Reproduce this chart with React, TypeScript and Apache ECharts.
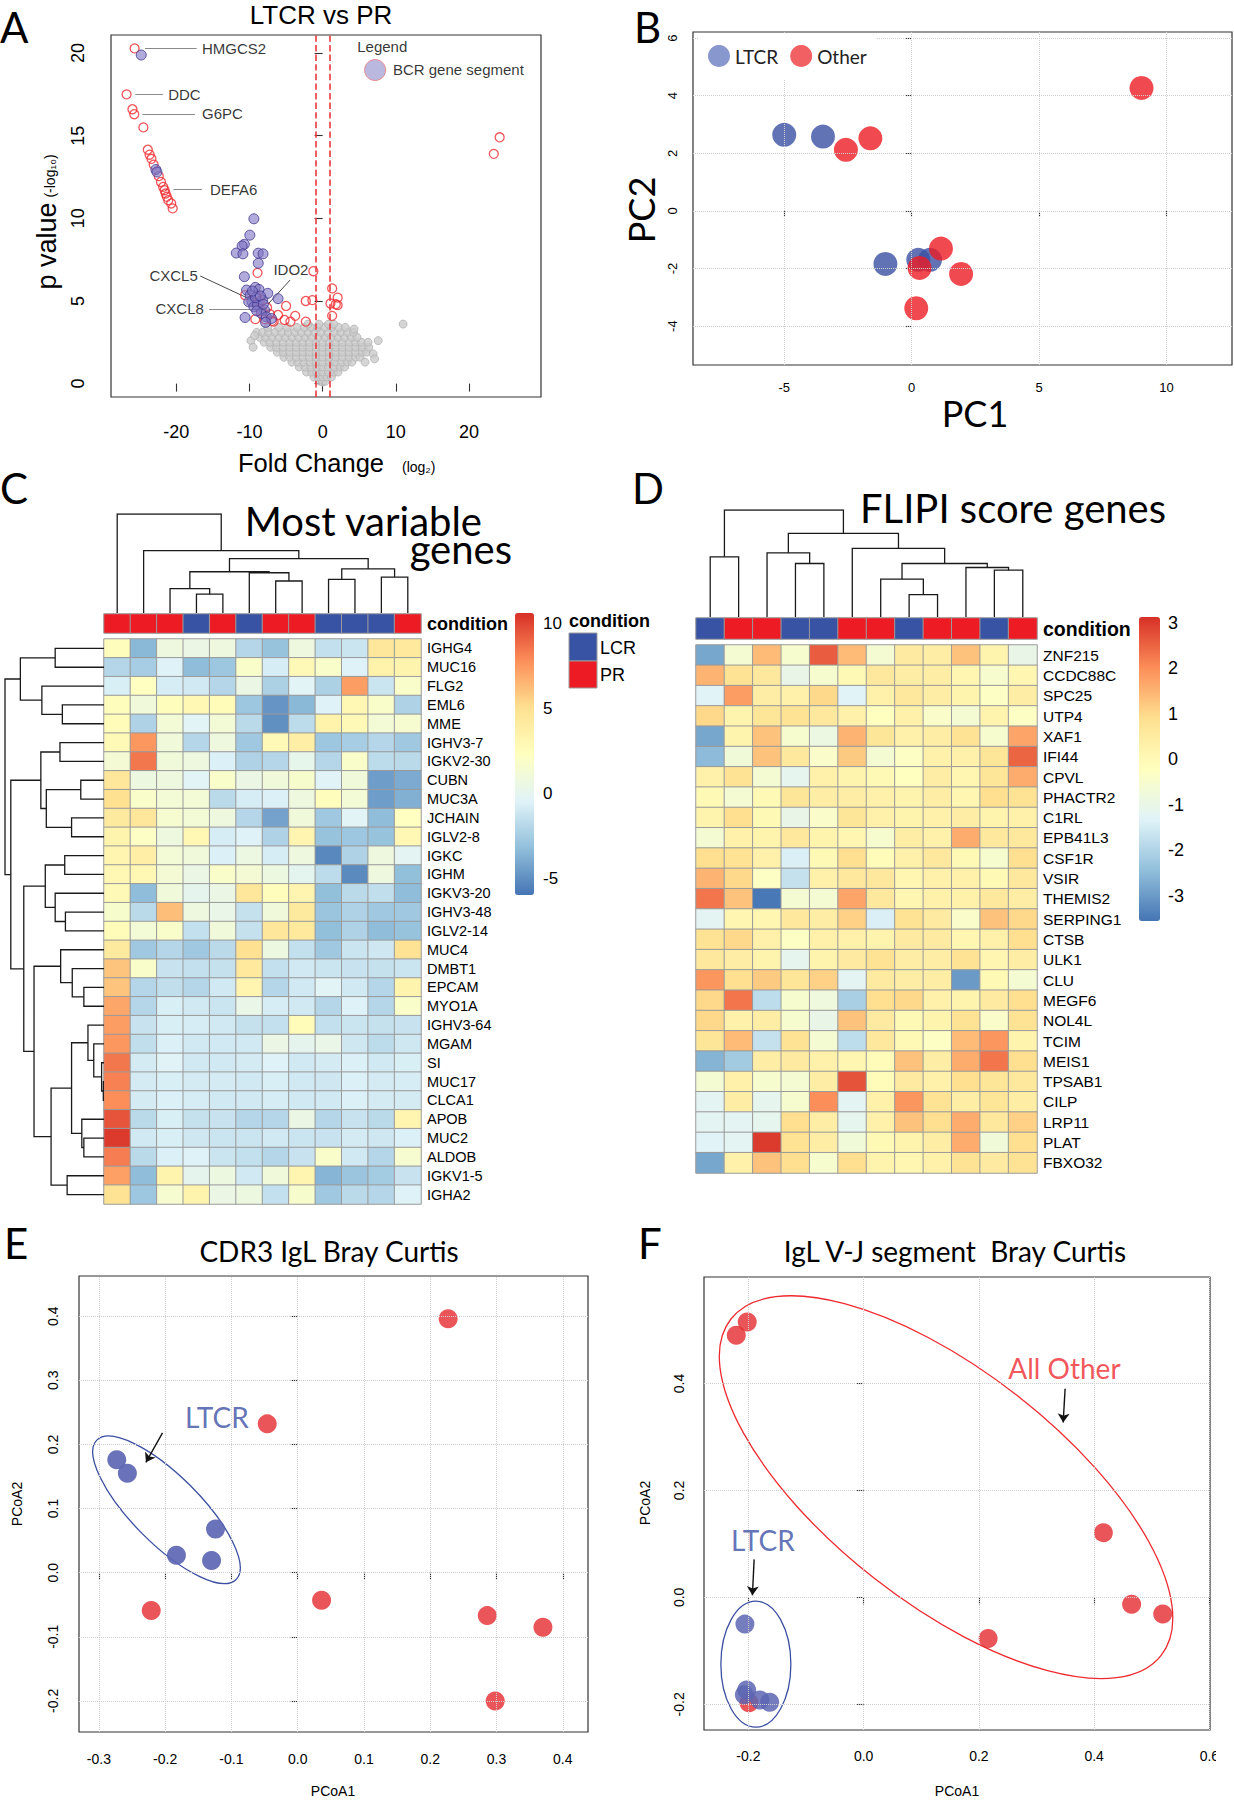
import React, { useEffect, useRef } from "react";
import * as echarts from "echarts";

const SANS = "'Liberation Sans', Arial, Helvetica, sans-serif";
const MYR = "Lato, 'Open Sans', sans-serif";
const RDYLBU = ["#4575b4", "#91bfdb", "#e0f3f8", "#ffffbf", "#fee090", "#fc8d59", "#d73027"];
const BLUE_COND = "#3953a4";
const RED_COND = "#ed1c24";

// ---------------- Panel A : volcano ----------------
const volcanoXTicks = [-20, -10, 0, 10, 20];
const volcanoYTicks = [0, 5, 10, 15, 20];
const foldCutoffs = [-1, 1];
const volcanoGrey = [
  [-0.4, 0.15], [0, 0.1], [0.4, 0.15],
  [-1.2, 0.4], [-0.6, 0.4], [0, 0.4], [0.6, 0.4], [1.2, 0.4],
  [-2.2, 0.7], [-1.5, 0.7], [-0.8, 0.7], [0, 0.7], [0.8, 0.7], [1.5, 0.7], [2.1, 0.7],
  [-3.2, 1.0], [-2.4, 1.0], [-1.6, 1.0], [-0.8, 1.0], [0, 1.0], [0.8, 1.0], [1.6, 1.0], [2.4, 1.0], [3.0, 1.0],
  [-4.2, 1.3], [-3.4, 1.3], [-2.6, 1.3], [-1.7, 1.3], [-0.9, 1.3], [0, 1.3], [0.9, 1.3], [1.7, 1.3], [2.6, 1.3], [3.4, 1.3], [4.0, 1.3],
  [-5.3, 1.6], [-4.5, 1.6], [-3.6, 1.6], [-2.7, 1.6], [-1.8, 1.6], [-0.9, 1.6], [0, 1.6], [0.9, 1.6], [1.8, 1.6], [2.7, 1.6], [3.6, 1.6], [4.5, 1.6], [5.1, 1.6],
  [-6.2, 1.9], [-5.4, 1.9], [-4.5, 1.9], [-3.6, 1.9], [-2.7, 1.9], [-1.8, 1.9], [-0.9, 1.9], [0, 1.9], [0.9, 1.9], [1.8, 1.9], [2.7, 1.9], [3.6, 1.9], [4.5, 1.9], [5.4, 1.9], [6.0, 1.9],
  [-7.1, 2.2], [-6.3, 2.2], [-5.4, 2.2], [-4.5, 2.2], [-3.6, 2.2], [-2.7, 2.2], [-1.8, 2.2], [-0.9, 2.2], [0, 2.2], [0.9, 2.2], [1.8, 2.2], [2.7, 2.2], [3.6, 2.2], [4.5, 2.2], [5.4, 2.2], [6.3, 2.2],
  [-8.0, 2.5], [-7.2, 2.5], [-6.3, 2.5], [-5.4, 2.5], [-4.5, 2.5], [-3.6, 2.5], [-2.7, 2.5], [-1.8, 2.5], [-0.9, 2.5], [0, 2.5], [0.9, 2.5], [1.8, 2.5], [2.7, 2.5], [3.6, 2.5], [4.5, 2.5], [5.3, 2.5],
  [-8.6, 2.8], [-7.8, 2.8], [-6.9, 2.8], [-6.0, 2.8], [-5.1, 2.8], [-4.2, 2.8], [-3.3, 2.8], [-2.4, 2.8], [-1.5, 2.8], [-0.6, 2.8], [0.3, 2.8], [1.2, 2.8], [2.1, 2.8], [3.0, 2.8], [3.9, 2.8], [4.7, 2.8],
  [-9.0, 3.1], [-8.2, 3.1], [-7.4, 3.1], [-6.5, 3.1], [-5.6, 3.1], [-4.7, 3.1], [-3.8, 3.1], [-2.9, 3.1], [-2.0, 3.1], [-1.1, 3.1], [-0.2, 3.1], [0.7, 3.1], [1.6, 3.1], [2.5, 3.1], [3.4, 3.1], [4.2, 3.1],
  [-7.5, 3.4], [-6.0, 3.4], [-4.8, 3.4], [-3.5, 3.4], [-2.5, 3.4], [-1.6, 3.4], [-0.7, 3.4], [0.3, 3.4], [1.2, 3.4], [2.2, 3.4], [3.1, 3.4],
  [-2.0, 3.6], [-0.5, 3.6], [0.8, 3.6], [1.5, 3.6],
  [11.0, 3.6], [7.6, 2.6], [6.2, 2.5], [6.9, 1.8], [7.1, 1.5], [4.3, 3.3], [-9.8, 2.6], [-9.5, 2.2], [5.8, 1.3], [-9.3, 2.9],
];
const volcanoRed = [
  [-25.7, 20.28], [-26.8, 17.5], [-26.0, 16.6], [-25.75, 16.3], [-24.5, 15.5],
  [-23.9, 14.15], [-23.65, 13.85], [-23.4, 13.6], [-23.1, 13.25], [-22.4, 12.55], [-22.1, 12.2],
  [-21.8, 11.9], [-21.6, 11.7], [-21.46, 11.5], [-21.3, 11.3], [-21.1, 11.1], [-20.7, 10.9], [-20.5, 10.6],
  [24.2, 14.9], [23.4, 13.9],
  [-1.27, 6.8], [1.3, 5.76], [2.05, 5.2], [1.07, 4.85], [1.8, 4.8], [2.05, 4.75], [1.3, 4.1],
  [-1.4, 5.05], [-2.3, 5.0], [-2.3, 3.75], [-3.75, 4.1], [-5.0, 4.7], [-4.4, 3.75], [-5.2, 3.85],
  [-6.1, 4.15], [-6.7, 3.75], [-8.9, 6.7], [-9.2, 3.9], [-10.6, 5.35],
  [-7.2, 4.2], [-7.9, 3.9], [-8.3, 4.4], [-9.0, 5.3], [-7.6, 4.6], [-8.6, 5.0], [-6.9, 3.8],
];
const volcanoBCR = [
  [-24.8, 19.88], [-22.8, 12.95], [-22.65, 12.8],
  [-9.4, 9.97], [-9.95, 8.98], [-10.7, 8.43], [-11.0, 8.33], [-11.8, 7.9], [-10.9, 7.85],
  [-8.8, 7.89], [-8.15, 7.85], [-8.8, 7.28], [-10.7, 6.47], [-10.4, 5.66], [-9.2, 5.82],
  [-8.7, 5.7], [-7.5, 5.46], [-6.1, 5.14], [-9.9, 5.36], [-9.66, 4.95], [-10.1, 4.95],
  [-9.4, 4.65], [-8.9, 4.75], [-8.2, 5.05], [-7.95, 4.45], [-8.4, 4.25], [-7.7, 4.04],
  [-7.0, 3.94], [-7.8, 3.7], [-10.6, 4.0], [-9.2, 5.2], [-8.5, 5.3], [-9.0, 4.4], [-8.1, 4.8], [-9.6, 5.6],
];
const volcanoNotes = [
  { name: "HMGCS2", x: -16.49, y: 20.28, side: "right" },
  { name: "DDC", x: -21.12, y: 17.49, side: "right" },
  { name: "G6PC", x: -16.49, y: 16.32, side: "right" },
  { name: "DEFA6", x: -15.41, y: 11.73, side: "right" },
  { name: "CXCL5", x: -17.07, y: 6.57, side: "left" },
  { name: "CXCL8", x: -16.24, y: 4.55, side: "left" },
  { name: "IDO2", x: -6.73, y: 6.92, side: "right" },
];
const volcanoLeaders = [
  { from: [-24.29, 20.28], to: [-17.22, 20.28], dark: false },
  { from: [-25.61, 17.49], to: [-21.85, 17.49], dark: false },
  { from: [-24.63, 16.32], to: [-17.46, 16.32], dark: false },
  { from: [-20.39, 11.73], to: [-16.49, 11.73], dark: false },
  { from: [-16.73, 6.51], to: [-9.17, 4.95], dark: true },
  { from: [-15.51, 4.49], to: [-8.93, 4.49], dark: false },
  { from: [-4.44, 6.27], to: [-7.46, 4.81], dark: true },
];

// ---------------- Panel B : PCA ----------------
const pcaXTicks = [-5, 0, 5, 10];
const pcaYTicks = [-4, -2, 0, 2, 4, 6];
const pcaLTCR = [[-5.0, 2.64], [-3.48, 2.58], [-1.03, -1.84], [0.26, -1.7], [0.72, -1.7]];
const pcaOther = [[-2.58, 2.12], [-1.62, 2.52], [9.02, 4.27], [1.15, -1.31], [0.31, -1.98], [1.94, -2.19], [0.18, -3.38]];

// ---------------- Panel C : most variable genes ----------------
const genesC = ["IGHG4", "MUC16", "FLG2", "EML6", "MME", "IGHV3-7", "IGKV2-30", "CUBN", "MUC3A", "JCHAIN", "IGLV2-8", "IGKC", "IGHM", "IGKV3-20", "IGHV3-48", "IGLV2-14", "MUC4", "DMBT1", "EPCAM", "MYO1A", "IGHV3-64", "MGAM", "SI", "MUC17", "CLCA1", "APOB", "MUC2", "ALDOB", "IGKV1-5", "IGHA2"];
const conditionC = [1, 1, 1, 0, 1, 0, 1, 1, 0, 0, 0, 1]; // 0 = LCR, 1 = PR
const heatC = [
  [2.5, -3.5, 0.8, 0.5, 0.8, -2.0, -3.0, 0.8, -1.5, -1.2, 4.5, 4.3],
  [-2.0, -2.5, -0.5, -3.3, -2.8, 1.8, -0.8, 2.8, 1.8, -0.5, 3.5, 3.3],
  [-0.7, 2.2, -0.8, -1.0, -2.0, 0.5, -2.3, -0.3, -2.3, 7.3, -1.2, 1.8],
  [2.5, 1.0, 2.5, 3.0, 2.7, -2.8, -4.8, -3.5, -0.5, 3.0, 1.8, -2.2],
  [2.7, -2.2, 1.2, -0.3, 1.2, -1.8, -5.0, -1.7, 3.5, 2.8, 1.2, 1.5],
  [2.8, 7.5, 1.0, -2.0, 0.8, -2.7, 2.8, 3.8, -2.8, -2.5, -2.0, -2.7],
  [1.3, 8.5, 1.0, 0.8, -0.6, -2.2, -2.0, 0.2, -2.0, 1.8, -1.7, -1.8],
  [4.5, 0.7, 0.8, -0.3, 1.8, 0.5, 1.0, 1.6, -0.4, 1.0, -4.5, -4.0],
  [5.0, 1.8, 1.2, 1.2, -1.8, -0.8, -0.6, 0.8, 2.5, 1.2, -4.5, -3.8],
  [4.2, 4.5, 1.5, 1.2, 0.8, -2.0, -4.3, 1.0, -2.7, -0.3, -3.3, 2.2],
  [3.3, 2.0, 0.8, 3.0, -0.8, -0.5, -2.2, 3.2, -3.0, -2.8, -3.0, 3.0],
  [3.2, 3.8, 1.2, 1.0, -0.6, 0.6, -0.8, 0.8, -5.3, -2.2, 0.8, -0.2],
  [3.0, 3.0, 1.3, 0.5, 1.8, 1.3, 0.7, -0.1, -1.7, -5.2, 0.8, -3.2],
  [2.8, -3.3, 1.0, 0.0, 0.5, 4.5, 2.5, 3.2, -3.2, -1.8, -1.6, -3.3],
  [1.6, -1.8, 6.2, 0.8, 0.3, -1.4, 1.0, 4.2, -2.9, -2.2, -2.7, -2.7],
  [2.7, 1.2, 1.8, -1.5, 1.0, -1.4, 4.5, 4.3, -3.2, -2.2, -3.3, -3.0],
  [4.2, -2.7, -2.0, -2.7, -1.8, 5.0, 0.7, -1.5, -2.7, -1.2, -1.1, 4.8],
  [6.0, 1.8, -1.3, -1.5, -1.4, 4.3, -1.5, -1.0, -1.2, -1.3, -1.4, -1.2],
  [6.0, -2.0, -1.6, -2.0, -1.0, 3.2, -2.0, -1.0, -0.3, -1.0, -2.0, 3.3],
  [7.0, -2.0, -0.7, -1.0, -1.2, 0.3, -0.8, -1.0, -2.0, -0.5, -2.0, 1.8],
  [7.3, -1.3, -0.7, -0.8, -1.0, -1.4, -1.5, 2.7, -1.5, -1.2, -1.4, -1.3],
  [7.5, -1.6, -0.6, -1.0, -1.0, -1.0, 0.5, 0.0, 0.3, -1.1, -1.7, -1.1],
  [8.5, -0.9, -0.4, -1.0, -1.0, -0.9, -0.5, -1.0, -0.9, -0.6, -1.0, -0.7],
  [8.2, -0.9, -0.7, -0.9, -0.9, -1.0, -0.7, -1.0, -1.1, -0.6, -0.9, -0.8],
  [7.8, -0.9, -0.6, -0.8, -1.0, -1.0, -0.8, -1.0, -1.0, -0.6, -0.9, -0.9],
  [9.5, -1.8, -0.7, -1.4, -1.3, -2.0, -2.0, 0.5, -2.0, -1.3, -1.8, 3.2],
  [10.3, -1.0, -0.7, -1.1, -1.2, -1.2, -1.0, -1.2, -1.3, -0.9, -1.1, -0.6],
  [8.3, -1.8, -0.6, -0.5, -1.2, -1.5, -2.0, -1.3, 1.8, -1.0, -2.0, 1.5],
  [7.2, -3.3, 3.3, 0.0, 0.7, -1.0, 1.0, 3.2, -3.6, -2.9, -2.6, -1.3],
  [4.8, -2.8, 1.5, 3.3, 0.5, 0.7, -1.5, 1.6, -2.7, -1.8, -2.0, -0.5],
];
const scaleC = [-6.0, 10.6];
const scaleTicksC = [10, 5, 0, -5];
// merges: [a, b, height]; a/b >= 0 leaf index, < 0 => -(mergeIndex + 1)
const colTreeC = [
  [3, 4, 57], [2, -1, 74], [6, 7, 97], [5, -3, 122], [-2, -4, 125],
  [8, 9, 102], [10, 11, 109], [-6, -7, 134], [-5, -8, 165], [1, -9, 189], [0, -10, 300],
];
const rowTreeC = [
  [0, 1, 143], [3, 4, 122], [2, -2, 182], [-1, -3, 245],
  [5, 6, 129], [7, 8, 68], [9, 10, 95], [-6, -7, 169], [-5, -8, 185],
  [11, 12, 115], [14, 15, 113], [13, -11, 143], [-10, -12, 172],
  [18, 19, 59], [17, -14, 93], [16, -15, 127],
  [23, 24, 2], [22, -17, 7], [21, -18, 30], [20, -19, 47],
  [26, 27, 59], [25, -21, 65], [-20, -22, 95], [28, 29, 108], [-23, -24, 155],
  [-16, -25, 205], [-13, -26, 235], [-9, -27, 273], [-4, -28, 290],
];

// ---------------- Panel D : FLIPI score genes ----------------
const genesD = ["ZNF215", "CCDC88C", "SPC25", "UTP4", "XAF1", "IFI44", "CPVL", "PHACTR2", "C1RL", "EPB41L3", "CSF1R", "VSIR", "THEMIS2", "SERPING1", "CTSB", "ULK1", "CLU", "MEGF6", "NOL4L", "TCIM", "MEIS1", "TPSAB1", "CILP", "LRP11", "PLAT", "FBXO32"];
const conditionD = [0, 1, 1, 0, 0, 1, 1, 0, 1, 1, 0, 1];
const heatD = [
  [-2.8, -0.6, 1.4, -0.5, 2.6, 1.4, -0.6, 0.5, 0.4, 1.3, 0.2, -1.0],
  [1.5, 0.8, 0.6, -1.0, -0.5, 0.0, 0.6, 0.4, 0.4, 0.1, -0.5, 0.1],
  [-1.3, 1.8, 0.4, 0.3, 1.0, -1.3, 0.3, 0.6, 0.4, 0.2, -0.3, 0.4],
  [1.0, 0.2, 0.7, 0.8, 0.6, 0.3, -0.2, 0.3, -0.4, -0.6, 0.2, -0.3],
  [-2.8, 0.2, 1.3, -0.5, -0.9, 1.5, 0.7, 0.3, 0.4, 0.8, -0.5, 1.7],
  [-2.5, -0.7, 1.3, 0.6, -0.4, 1.2, -0.6, -0.3, 0.3, 0.3, 0.7, 2.5],
  [0.3, 0.8, -0.6, -1.1, 0.3, 0.2, 0.0, -0.2, 0.4, 0.1, 0.7, 1.6],
  [0.0, -0.6, 0.0, 0.7, 0.4, 0.4, 0.3, 0.2, 0.4, 0.1, 0.9, 0.8],
  [0.2, 0.9, 0.0, -1.0, -0.4, 0.7, 0.3, 0.2, 0.3, 0.4, 0.2, 0.3],
  [-0.6, 0.3, 0.2, 0.6, 0.2, 0.1, -0.5, 0.4, 0.3, 1.6, 0.6, 0.6],
  [0.9, 0.8, 0.3, -1.4, 0.0, 0.9, -0.1, 0.3, 0.6, 0.0, -0.5, 0.9],
  [1.5, 1.0, -0.3, -1.7, 0.3, 0.6, 0.6, 0.1, 0.3, 0.3, 0.0, 0.6],
  [2.3, 1.3, -3.5, -0.6, -0.6, 1.7, 0.6, 0.1, 0.3, 0.3, 0.6, 0.4],
  [-1.2, 0.1, 0.1, 0.6, 0.4, 1.1, -1.4, 0.8, 0.5, -0.4, 1.3, 1.0],
  [0.8, 1.0, 0.3, -0.3, 0.3, 0.3, 0.2, 0.5, 0.5, 0.1, 0.3, 0.9],
  [0.6, 0.4, 0.2, -1.1, 0.2, 0.5, 0.8, 0.4, 0.4, 0.8, 0.1, 0.4],
  [1.9, 0.9, 1.2, 0.7, 1.1, -1.2, 0.5, 0.4, 0.4, -3.0, 0.0, -0.6],
  [1.0, 2.3, -1.8, -0.5, -0.8, -2.1, 0.9, 1.0, 0.3, 0.2, 0.5, 0.9],
  [1.0, 0.3, 0.4, -0.5, -1.0, 1.3, 0.5, 0.0, 0.2, 0.8, -0.4, 0.8],
  [0.7, 1.4, -1.7, 0.8, -0.6, -1.8, 0.6, 0.0, -0.3, 1.4, 1.9, 0.2],
  [-2.6, -2.2, 0.4, 0.5, 0.3, 0.1, -0.1, 1.3, 0.4, 1.6, 2.3, 0.9],
  [-0.6, 0.3, -0.5, -0.6, 0.4, 2.7, -0.1, 0.5, 0.3, 0.9, 0.7, 0.6],
  [-1.2, 0.4, -1.1, -0.5, 2.0, -1.2, 0.3, 1.9, 0.8, 0.4, 0.7, 0.4],
  [-1.2, -1.2, -1.1, 0.9, 0.4, -1.1, 0.3, 1.3, 0.9, 1.6, 0.6, 1.1],
  [-1.3, -1.2, 3.0, 0.8, 0.4, -0.7, 0.0, 0.2, 0.4, 1.6, -0.7, 0.9],
  [-2.8, 0.3, 1.3, 0.9, -0.5, 0.9, 0.2, 0.1, 0.3, 0.8, 0.5, 0.8],
];
const scaleD = [-3.55, 3.13];
const scaleTicksD = [3, 2, 1, 0, -1, -2, -3];
const colTreeD = [
  [0, 1, 180], [3, 4, 160], [2, -2, 192], [7, 8, 67], [6, -4, 113],
  [10, 11, 140], [9, -6, 148], [-5, -7, 160], [5, -8, 205], [-3, -9, 250], [-1, -10, 320],
];

// ---------------- Panel E : CDR3 IgL Bray Curtis ----------------
const cdr3XTicks = [-0.3, -0.2, -0.1, 0.0, 0.1, 0.2, 0.3, 0.4];
const cdr3YTicks = [-0.2, -0.1, 0.0, 0.1, 0.2, 0.3, 0.4];
const cdr3LTCR = [[-0.273, 0.176], [-0.257, 0.155], [-0.124, 0.068], [-0.183, 0.027], [-0.13, 0.019]];
const cdr3Other = [[0.227, 0.396], [-0.046, 0.232], [-0.221, -0.059], [0.036, -0.043], [0.286, -0.067], [0.37, -0.085], [0.298, -0.2]];

// ---------------- Panel F : IgL V-J segment Bray Curtis ----------------
const vjXTicks = [-0.2, 0.0, 0.2, 0.4, 0.6];
const vjYTicks = [-0.2, 0.0, 0.2, 0.4];
const vjOther = [[-0.221, 0.49], [-0.202, 0.515], [0.416, 0.121], [0.465, -0.013], [0.519, -0.031], [0.216, -0.077], [-0.199, -0.197]];
const vjLTCR = [[-0.206, -0.05], [-0.203, -0.173], [-0.207, -0.182], [-0.18, -0.192], [-0.163, -0.196]];

// ---------------- helpers ----------------
function treeSegments(merges: number[][], horizontal: boolean) {
  const pos: number[] = [];
  const hgt: number[] = [];
  const get = (id: number) => (id >= 0 ? [id, 0] : [pos[-id - 1], hgt[-id - 1]]);
  return merges.map(([a, b, h], k) => {
    const [pa, ha] = get(a);
    const [pb, hb] = get(b);
    pos[k] = (pa + pb) / 2;
    hgt[k] = h;
    const pts = [[pa, ha], [pa, h], [pb, h], [pb, hb]];
    return { coords: horizontal ? pts.map(([p, v]) => [v, p]) : pts };
  });
}

function valueAxis(gridIndex: number, min: number, max: number, ticks: number[] | null, o: any = {}) {
  return {
    type: "value",
    gridIndex,
    min,
    max,
    inverse: !!o.inverse,
    position: o.position,
    show: !!ticks,
    axisLine: { show: false },
    splitLine: { show: false },
    axisTick: ticks && !o.noTick
      ? { show: true, customValues: ticks, length: o.tickLen ?? 7, lineStyle: { color: "#333", width: 1.1 } }
      : { show: false },
    axisLabel: ticks
      ? {
          show: true,
          customValues: ticks,
          fontSize: o.fontSize ?? 14,
          color: "#000",
          fontFamily: o.font ?? SANS,
          margin: o.margin ?? 8,
          rotate: o.rotate ?? 0,
          formatter: o.formatter,
        }
      : { show: false },
  };
}

function catAxis(gridIndex: number, data: string[], o: any = {}) {
  return {
    type: "category",
    gridIndex,
    data,
    inverse: !!o.inverse,
    position: o.position,
    show: !!o.label,
    axisLine: { show: false },
    axisTick: { show: false },
    splitLine: { show: false },
    axisLabel: o.label ? { show: true, interval: 0, color: "#000", fontFamily: SANS, ...o.label } : { show: false },
  };
}

function gridLines(xi: number, xs: number[], ys: number[]) {
  return {
    type: "scatter",
    xAxisIndex: xi,
    yAxisIndex: xi,
    data: [],
    silent: true,
    z: 1,
    markLine: {
      silent: true,
      symbol: ["none", "none"],
      label: { show: false },
      lineStyle: { type: "dotted", color: "#cfcfcf", width: 1 },
      data: [...xs.map((v) => ({ xAxis: v })), ...ys.map((v) => ({ yAxis: v }))],
    },
  };
}

function txt(text: string, x: number, y: number, size: number, o: any = {}) {
  return {
    type: "text",
    x,
    y,
    rotation: o.rot || 0,
    z: 50,
    silent: true,
    style: {
      text,
      fill: o.color || "#000",
      fontSize: size,
      fontFamily: o.font || SANS,
      fontWeight: o.weight || "normal",
      align: o.align || "center",
      verticalAlign: o.va || "middle",
      rich: o.rich,
      lineHeight: o.lineHeight,
    },
  };
}

const fmt1 = (v: number) => v.toFixed(1);

function buildOption() {
  const cols = Array.from({ length: 12 }, (_, i) => String(i + 1));
  const series: any[] = [];
  const add = (s: any) => {
    series.push(s);
    return series.length - 1;
  };

  // ---- A
  add({
    type: "scatter", xAxisIndex: 0, yAxisIndex: 0, data: [], silent: true, z: 4,
    markLine: {
      silent: true, symbol: ["none", "none"], label: { show: false },
      lineStyle: { type: "dashed", color: "#e8383d", width: 1.6 },
      data: foldCutoffs.map((v) => ({ xAxis: v })),
    },
  });
  add({ type: "scatter", xAxisIndex: 0, yAxisIndex: 0, data: volcanoGrey, symbolSize: 8, silent: true, z: 2,
    itemStyle: { color: "#cbcbcb", borderColor: "#b3b3b3", borderWidth: 1 } });
  add({ type: "scatter", xAxisIndex: 0, yAxisIndex: 0, data: volcanoRed, symbolSize: 9, silent: true, z: 3,
    itemStyle: { color: "rgba(255,255,255,0)", borderColor: "#ef2b30", borderWidth: 1.3 } });
  add({ type: "scatter", xAxisIndex: 0, yAxisIndex: 0, data: volcanoBCR, symbolSize: 10, silent: true, z: 3,
    itemStyle: { color: "rgba(125,115,195,0.75)", borderColor: "#40368f", borderWidth: 1 } });
  add({ type: "scatter", xAxisIndex: 0, yAxisIndex: 0, data: [[7.17, 18.97]], symbolSize: 21, silent: true, z: 3,
    itemStyle: { color: "#aaa6d8", borderColor: "#e87878", borderWidth: 1 } });
  add({
    type: "lines", coordinateSystem: "cartesian2d", xAxisIndex: 0, yAxisIndex: 0, silent: true, z: 3,
    lineStyle: { width: 1, opacity: 1, color: "#888" },
    data: volcanoLeaders.map((l) => ({ coords: [l.from, l.to], lineStyle: { color: l.dark ? "#333" : "#8a8a8a", width: l.dark ? 0.9 : 1.2, opacity: 1 } })),
  });
  add({
    type: "scatter", xAxisIndex: 0, yAxisIndex: 0, symbolSize: 0, silent: true, z: 5,
    label: { show: true, formatter: "{b}", fontSize: 15, color: "#000", fontFamily: SANS, distance: 0 },
    data: [
      ...volcanoNotes.map((n) => ({ name: n.name, value: [n.x, n.y], label: { position: n.side } })),
      { name: "Legend", value: [4.73, 20.42], label: { position: "right" } },
      { name: "BCR gene segment", value: [9.61, 18.99], label: { position: "right" } },
    ],
  });

  // ---- B
  add(gridLines(1, pcaXTicks, pcaYTicks));
  add({ name: "LTCR", type: "scatter", xAxisIndex: 1, yAxisIndex: 1, data: pcaLTCR, symbolSize: 24, silent: true, z: 3,
    itemStyle: { color: "#3b50a3" } });
  add({ name: "Other", type: "scatter", xAxisIndex: 1, yAxisIndex: 1, data: pcaOther, symbolSize: 24, silent: true, z: 3,
    itemStyle: { color: "#ed1c24" } });

  // ---- C
  add({ type: "lines", coordinateSystem: "cartesian2d", polyline: true, xAxisIndex: 2, yAxisIndex: 2, silent: true,
    lineStyle: { color: "#1a1a1a", width: 1.3, opacity: 1 }, data: treeSegments(colTreeC, false) });
  const condCIdx = add({ type: "heatmap", xAxisIndex: 3, yAxisIndex: 3, silent: true,
    itemStyle: { borderColor: "#9a9a9a", borderWidth: 1 },
    data: conditionC.map((v, i) => [i, 0, v]) });
  const heatCIdx = add({ type: "heatmap", xAxisIndex: 4, yAxisIndex: 4, silent: true,
    itemStyle: { borderColor: "#9a9a9a", borderWidth: 1 },
    data: heatC.flatMap((row, r) => row.map((v, c) => [c, r, v])) });
  add({ type: "lines", coordinateSystem: "cartesian2d", polyline: true, xAxisIndex: 5, yAxisIndex: 5, silent: true,
    lineStyle: { color: "#1a1a1a", width: 1.3, opacity: 1 }, data: treeSegments(rowTreeC, true) });

  // ---- D
  add({ type: "lines", coordinateSystem: "cartesian2d", polyline: true, xAxisIndex: 6, yAxisIndex: 6, silent: true,
    lineStyle: { color: "#1a1a1a", width: 1.3, opacity: 1 }, data: treeSegments(colTreeD, false) });
  const condDIdx = add({ type: "heatmap", xAxisIndex: 7, yAxisIndex: 7, silent: true,
    itemStyle: { borderColor: "#9a9a9a", borderWidth: 1 },
    data: conditionD.map((v, i) => [i, 0, v]) });
  const heatDIdx = add({ type: "heatmap", xAxisIndex: 8, yAxisIndex: 8, silent: true,
    itemStyle: { borderColor: "#9a9a9a", borderWidth: 1 },
    data: heatD.flatMap((row, r) => row.map((v, c) => [c, r, v])) });

  // ---- E
  add(gridLines(9, cdr3XTicks, cdr3YTicks));
  add({ name: "E other", type: "scatter", xAxisIndex: 9, yAxisIndex: 9, data: cdr3Other, symbolSize: 19, silent: true, z: 3,
    itemStyle: { color: "#e42a2f" } });
  add({ name: "E LTCR", type: "scatter", xAxisIndex: 9, yAxisIndex: 9, data: cdr3LTCR, symbolSize: 19, silent: true, z: 3,
    itemStyle: { color: "#5d66b3", opacity: 0.92 } });
  add({ type: "scatter", xAxisIndex: 9, yAxisIndex: 9, symbolSize: 0, silent: true, z: 5,
    label: { show: true, position: "right", distance: 0, formatter: "{b}", fontSize: 28, fontFamily: MYR, color: "#3a4fa5" },
    data: [{ name: "LTCR", value: [-0.17, 0.242] }] });
  add({ type: "lines", coordinateSystem: "cartesian2d", xAxisIndex: 9, yAxisIndex: 9, silent: true, z: 5,
    symbol: ["none", "arrow"], symbolSize: 9, lineStyle: { color: "#111", width: 1.4, opacity: 1 },
    data: [{ coords: [[-0.204, 0.218], [-0.229, 0.172]] }] });

  // ---- F
  add(gridLines(10, vjXTicks, vjYTicks));
  add({ name: "F other", type: "scatter", xAxisIndex: 10, yAxisIndex: 10, data: vjOther, symbolSize: 19, silent: true, z: 3,
    itemStyle: { color: "#e42a2f" } });
  add({ name: "F LTCR", type: "scatter", xAxisIndex: 10, yAxisIndex: 10, data: vjLTCR, symbolSize: 19, silent: true, z: 3,
    itemStyle: { color: "#5d66b3", opacity: 0.85 } });
  add({ type: "scatter", xAxisIndex: 10, yAxisIndex: 10, symbolSize: 0, silent: true, z: 5,
    label: { show: true, position: "right", distance: 0, formatter: "{b}", fontSize: 28, fontFamily: MYR },
    data: [
      { name: "All Other", value: [0.251, 0.429], label: { color: "#ee2a2f" } },
      { name: "LTCR", value: [-0.23, 0.107], label: { color: "#3a4fa5" } },
    ] });
  add({ type: "lines", coordinateSystem: "cartesian2d", xAxisIndex: 10, yAxisIndex: 10, silent: true, z: 5,
    symbol: ["none", "arrow"], symbolSize: 9, lineStyle: { color: "#111", width: 1.4, opacity: 1 },
    data: [{ coords: [[0.3496, 0.39], [0.3462, 0.327]] }, { coords: [[-0.19, 0.071], [-0.193, 0.004]] }] });

  const box = { show: true, borderColor: "#333", borderWidth: 1.2, backgroundColor: "rgba(0,0,0,0)" };
  const grid = [
    { left: 111, top: 35, width: 430, height: 362, ...box }, // 0 A
    { left: 693, top: 32, width: 539, height: 333, ...box }, // 1 B
    { left: 104, top: 514, width: 317, height: 99 }, // 2 C col tree
    { left: 104, top: 614, width: 317, height: 19 }, // 3 C condition
    { left: 104, top: 639, width: 317, height: 565 }, // 4 C heat
    { left: 5, top: 639, width: 99, height: 565 }, // 5 C row tree
    { left: 696, top: 510, width: 341, height: 107 }, // 6 D col tree
    { left: 696, top: 618, width: 341, height: 21 }, // 7 D condition
    { left: 696, top: 645, width: 341, height: 528 }, // 8 D heat
    { left: 79, top: 1276, width: 509, height: 456, ...box }, // 9 E
    { left: 704, top: 1277, width: 506, height: 453, ...box }, // 10 F
    { left: 515, top: 613, width: 19, height: 282 }, // 11 C bar
    { left: 1139, top: 617, width: 21, height: 304 }, // 12 D bar
  ].map((g) => ({ outerBoundsMode: "none", containLabel: false, ...g }));

  const xAxis = [
    valueAxis(0, -28.93, 29.85, volcanoXTicks, { fontSize: 18, margin: 26, tickLen: 8 }),
    valueAxis(1, -8.58, 12.57, pcaXTicks, { fontSize: 13, margin: 16, tickLen: 6 }),
    valueAxis(2, -0.5, 11.5, null),
    catAxis(3, cols),
    catAxis(4, cols),
    valueAxis(5, 0, 290, null, { inverse: true }),
    valueAxis(6, -0.5, 11.5, null),
    catAxis(7, cols),
    catAxis(8, cols),
    valueAxis(9, -0.33, 0.438, cdr3XTicks, { fontSize: 14, margin: 20, tickLen: 7, formatter: fmt1 }),
    valueAxis(10, -0.277, 0.601, vjXTicks, { fontSize: 14, margin: 19, tickLen: 7, formatter: fmt1 }),
    valueAxis(11, 0, 1, null),
    valueAxis(12, 0, 1, null),
  ];
  const yAxis = [
    valueAxis(0, -0.81, 21.09, volcanoYTicks, { fontSize: 18, margin: 24, tickLen: 8, rotate: 90 }),
    valueAxis(1, -5.35, 6.21, pcaYTicks, { fontSize: 13, margin: 14, tickLen: 6, rotate: 90 }),
    valueAxis(2, 0, 300, null),
    catAxis(3, ["condition"], { position: "right", label: { fontSize: 18, fontWeight: "bold", margin: 6 } }),
    catAxis(4, genesC, { position: "right", inverse: true, label: { fontSize: 14.5, margin: 6 } }),
    valueAxis(5, -0.5, 29.5, null, { inverse: true }),
    valueAxis(6, 0, 320, null),
    catAxis(7, ["condition"], { position: "right", label: { fontSize: 19.5, fontWeight: "bold", margin: 6 } }),
    catAxis(8, genesD, { position: "right", inverse: true, label: { fontSize: 15.5, margin: 6 } }),
    valueAxis(9, -0.2485, 0.4626, cdr3YTicks, { fontSize: 14, margin: 19, tickLen: 7, rotate: 90, formatter: fmt1 }),
    valueAxis(10, -0.248, 0.599, vjYTicks, { fontSize: 14, margin: 18, tickLen: 7, rotate: 90, formatter: fmt1 }),
    valueAxis(11, scaleC[0], scaleC[1], scaleTicksC, { position: "right", noTick: true, fontSize: 17, margin: 9 }),
    valueAxis(12, scaleD[0], scaleD[1], scaleTicksD, { position: "right", noTick: true, fontSize: 18, margin: 8 }),
  ];

  const visualMap = [
    { type: "continuous", min: scaleC[0], max: scaleC[1], seriesIndex: [heatCIdx], dimension: 2,
      inRange: { color: RDYLBU }, show: true, calculable: false, orient: "vertical",
      left: 515, top: 613, itemWidth: 19, itemHeight: 282, padding: 0, text: null, hoverLink: false },
    { type: "continuous", min: scaleD[0], max: scaleD[1], seriesIndex: [heatDIdx], dimension: 2,
      inRange: { color: RDYLBU }, show: true, calculable: false, orient: "vertical",
      left: 1139, top: 617, itemWidth: 21, itemHeight: 304, padding: 0, text: null, hoverLink: false },
    { type: "piecewise", show: false, seriesIndex: [condCIdx, condDIdx], dimension: 2,
      pieces: [{ value: 0, color: BLUE_COND }, { value: 1, color: RED_COND }] },
  ];

  const graphic = [
    txt("A", 0, 27, 42, { font: MYR, align: "left" }),
    txt("B", 634, 27, 42, { font: MYR, align: "left" }),
    txt("C", 0, 488, 42, { font: MYR, align: "left" }),
    txt("D", 632, 488, 42, { font: MYR, align: "left" }),
    txt("E", 4, 1243, 42, { font: MYR, align: "left" }),
    txt("F", 638, 1243, 42, { font: MYR, align: "left" }),
    txt("LTCR vs PR", 321, 15, 26),
    txt("p value", 47, 246, 27, { rot: Math.PI / 2 }),
    txt("(-log\u2081\u2080)", 50, 176, 14, { rot: Math.PI / 2 }),
    txt("Fold Change", 238, 463, 25.5, { align: "left" }),
    txt("(log\u2082)", 402, 467, 14, { align: "left" }),
    txt("PC1", 975, 413, 36, { font: MYR }),
    txt("PC2", 641, 210, 36, { font: MYR, rot: Math.PI / 2 }),
    txt("{t1|Most variable}\n{t2|genes}", 512, 535, 40, {
      font: MYR, align: "right",
      rich: {
        t1: { fontSize: 40, fontFamily: MYR, lineHeight: 28, padding: [0, 30, 0, 0] },
        t2: { fontSize: 40, fontFamily: MYR, lineHeight: 28 },
      },
    }),
    txt("condition", 569, 621, 18, { weight: "bold", align: "left" }),
    { type: "rect", shape: { x: 569, y: 633, width: 28, height: 28 }, style: { fill: BLUE_COND, stroke: "#9a9a9a", lineWidth: 1 }, silent: true },
    { type: "rect", shape: { x: 569, y: 661, width: 28, height: 27 }, style: { fill: RED_COND, stroke: "#9a9a9a", lineWidth: 1 }, silent: true },
    txt("LCR", 600, 648, 18, { align: "left" }),
    txt("PR", 600, 675, 18, { align: "left" }),
    txt("FLIPI score genes", 860, 508, 40, { font: MYR, align: "left" }),
    txt("CDR3 IgL Bray Curtis", 329, 1251, 28, { font: MYR }),
    txt("PCoA1", 333, 1791, 14),
    txt("PCoA2", 17, 1504, 14, { rot: Math.PI / 2 }),
    txt("IgL V-J segment  Bray Curtis", 955, 1251, 28, { font: MYR }),
    txt("PCoA1", 957, 1791, 14),
    txt("PCoA2", 645, 1503, 14, { rot: Math.PI / 2 }),
    { type: "rect", z: 100, shape: { x: 1216, y: 1742, width: 18, height: 30 }, style: { fill: "#fff" }, silent: true },
  ];

  return {
    animation: false,
    backgroundColor: "#fff",
    textStyle: { fontFamily: SANS },
    grid,
    xAxis,
    yAxis,
    visualMap,
    legend: {
      show: true, left: 698, top: 33, orient: "horizontal", itemWidth: 22, itemHeight: 22, itemGap: 12,
      padding: [12, 10, 12, 10], backgroundColor: "#fff", selectedMode: false, z: 10,
      textStyle: { fontFamily: MYR, fontSize: 19, color: "#222" },
      data: [
        { name: "LTCR", icon: "circle", itemStyle: { color: "#6a7dc1" } },
        { name: "Other", icon: "circle", itemStyle: { color: "#ee3a3d" } },
      ],
    },
    series,
    graphic,
  };
}

// annotation ellipses (data-space centres, pixel radii)
const groupEllipses = [
  { grid: 9, center: [-0.198, 0.098], rx: 98.5, ry: 34, deg: -45, color: "#3a4fa0" },
  { grid: 10, center: [0.143, 0.206], rx: 273, ry: 116, deg: -38, color: "#ee2a2f" },
  { grid: 10, center: [-0.187, -0.125], rx: 35, ry: 63, deg: 0, color: "#3a4fa0" },
];

export default function App() {
  const ref = useRef<HTMLDivElement>(null);
  useEffect(() => {
    document.body.style.margin = "0";
    if (!ref.current) return;
    const chart = echarts.init(ref.current, null, { renderer: "svg" });
    const option: any = buildOption();
    chart.setOption(option);
    const ells = groupEllipses.map((e) => {
      const p = chart.convertToPixel({ gridIndex: e.grid } as any, e.center) as number[];
      return {
        type: "ellipse",
        x: p[0],
        y: p[1],
        rotation: (e.deg * Math.PI) / 180,
        silent: true,
        z: 1,
        shape: { cx: 0, cy: 0, rx: e.rx, ry: e.ry },
        style: { fill: "none", stroke: e.color, lineWidth: 1.3 },
      };
    });
    chart.setOption({ graphic: [...option.graphic, ...ells] });
    return () => chart.dispose();
  }, []);
  return <div ref={ref} style={{ width: 1234, height: 1800 }} />;
}
